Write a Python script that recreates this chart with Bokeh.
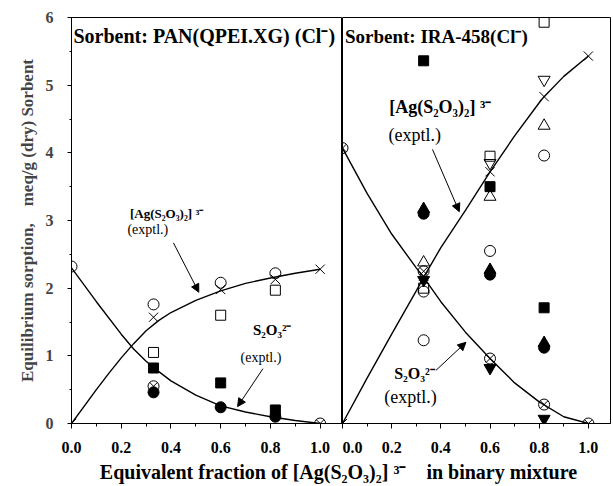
from bokeh.plotting import figure
from bokeh.layouts import column, row
from bokeh.models import Range1d, Label, Arrow, NormalHead, SingleIntervalTicker, NumeralTickFormatter
from bokeh.embed import file_html
from bokeh.resources import INLINE

FONT = "Liberation Serif"
NB = "\u00a0"

# ---------------- Left panel: PAN(QPEI.XG) (Cl-) ----------------
L_open_circle_x = [0.0, 0.33, 0.6, 0.82]
L_open_circle_y = [2.32, 1.76, 2.08, 2.22]
L_cross_x = [0.0, 0.33, 0.6, 0.82, 1.0]
L_cross_y = [0.0, 1.57, 1.98, 2.13, 2.28]
L_open_square_x = [0.33, 0.6, 0.82]
L_open_square_y = [1.05, 1.6, 1.97]
L_filled_square_x = [0.33, 0.6, 0.82]
L_filled_square_y = [0.82, 0.6, 0.2]
L_crossed_circle_x = [0.33, 1.0]
L_crossed_circle_y = [0.55, 0.0]
L_filled_circle_x = [0.33, 0.6, 0.82]
L_filled_circle_y = [0.46, 0.24, 0.1]

L_ag_curve_x = [0.0, 0.1, 0.15, 0.2, 0.25, 0.3, 0.35, 0.4, 0.5, 0.6, 0.7, 0.8, 0.9, 1.0]
L_ag_curve_y = [0.0, 0.5, 0.74, 0.97, 1.18, 1.37, 1.52, 1.64, 1.82, 1.96, 2.07, 2.15, 2.22, 2.28]
L_s2o3_curve_x = [0.0, 0.1, 0.2, 0.25, 0.3, 0.35, 0.4, 0.5, 0.6, 0.7, 0.8, 0.9, 1.0]
L_s2o3_curve_y = [2.3, 1.8, 1.32, 1.1, 0.92, 0.77, 0.63, 0.42, 0.26, 0.17, 0.1, 0.045, 0.0]

# ---------------- Right panel: IRA-458 (Cl-) ----------------
R_open_square_x = [0.33, 0.6, 0.82]
R_open_square_y = [2.0, 3.95, 5.93]
R_open_circle_x = [0.33, 0.33, 0.6, 0.82]
R_open_circle_y = [1.95, 1.23, 2.55, 3.96]
R_open_triangle_x = [0.33, 0.6, 0.82]
R_open_triangle_y = [2.38, 3.35, 4.4]
R_open_inv_triangle_x = [0.6, 0.82]
R_open_inv_triangle_y = [3.85, 5.08]
R_cross_x = [0.0, 0.33, 0.6, 0.82, 1.0]
R_cross_y = [0.0, 2.18, 3.72, 4.83, 5.43]
R_filled_square_x = [0.33, 0.6, 0.82]
R_filled_square_y = [5.36, 3.5, 1.71]
R_filled_circle_x = [0.33, 0.6, 0.82]
R_filled_circle_y = [3.1, 2.2, 1.12]
R_filled_triangle_x = [0.33, 0.6, 0.82]
R_filled_triangle_y = [3.17, 2.27, 1.19]
R_filled_inv_triangle_x = [0.33, 0.6, 0.82]
R_filled_inv_triangle_y = [2.12, 0.82, 0.07]
R_crossed_circle_x = [0.0, 0.33, 0.6, 0.82, 1.0]
R_crossed_circle_y = [4.07, 2.25, 0.96, 0.28, 0.0]

R_ag_curve_x = [0.0, 0.1, 0.2, 0.3, 0.33, 0.4, 0.5, 0.6, 0.7, 0.8, 0.82, 0.9, 1.0]
R_ag_curve_y = [0.0, 0.67, 1.32, 1.96, 2.16, 2.6, 3.15, 3.72, 4.25, 4.74, 4.83, 5.13, 5.43]
R_s2o3_curve_x = [0.0, 0.1, 0.2, 0.3, 0.33, 0.4, 0.5, 0.6, 0.7, 0.8, 0.9, 1.0]
R_s2o3_curve_y = [4.07, 3.4, 2.8, 2.3, 2.16, 1.8, 1.35, 0.96, 0.6, 0.32, 0.1, 0.0]

AG_LABEL = "[Ag(S₂O₃)₂] ³⁻"
S2O3_LABEL = "S₂O₃²⁻"
EXPTL = "(exptl.)"
X_TITLE = "Equivalent fraction of [Ag(S₂O₃)₂] ³⁻" + NB * 4 + "in binary mixture"
Y_TITLE = "Equilibrium sorption," + NB * 4 + "meq/g (dry) Sorbent"
X_MAX = 1.09


def style_axes(p):
    p.grid.visible = False
    p.outline_line_color = "black"
    p.outline_line_width = 1
    p.background_fill_color = "white"
    p.border_fill_color = "white"
    xa = p.xaxis[0]
    xa.ticker = SingleIntervalTicker(interval=0.2, num_minor_ticks=2)
    xa.formatter = NumeralTickFormatter(format="0.0")
    xa.major_tick_out = 5
    xa.major_tick_in = 0
    xa.minor_tick_out = 3
    xa.minor_tick_in = 0
    xa.major_label_standoff = 13
    xa.major_label_text_font = FONT
    xa.major_label_text_font_style = "bold"
    xa.major_label_text_font_size = "16px"
    xa.major_label_text_color = "black"
    xa.axis_line_color = "black"


def markers(p, x, y, marker, size, filled):
    p.scatter(x, y, marker=marker, size=size,
              fill_color="black" if filled else None,
              line_color="black", line_width=1)


def add_label(p, x, y, text, bold=True, size="15px"):
    p.add_layout(Label(x=x, y=y, text=text, text_font=FONT,
                       text_font_style="bold" if bold else "normal",
                       text_font_size=size, text_color="black",
                       text_baseline="middle", text_align="left"))


def add_arrow(p, x0, y0, x1, y1):
    p.add_layout(Arrow(end=NormalHead(size=8, fill_color="black", line_color="black"),
                       x_start=x0, y_start=y0, x_end=x1, y_end=y1,
                       line_color="black", line_width=1))


# ---------- left figure ----------
p1 = figure(width=342, height=459, x_range=Range1d(0, X_MAX), y_range=Range1d(0, 6),
            output_backend="svg", toolbar_location=None,
            min_border_left=71, min_border_right=0, min_border_top=17, min_border_bottom=36)
style_axes(p1)
ya = p1.yaxis[0]
ya.ticker = SingleIntervalTicker(interval=1, num_minor_ticks=2)
ya.major_tick_out = 4
ya.major_tick_in = 0
ya.minor_tick_out = 2
ya.minor_tick_in = 0
ya.major_label_standoff = 14
ya.major_label_text_font = FONT
ya.major_label_text_font_style = "bold"
ya.major_label_text_font_size = "16px"
ya.axis_label = Y_TITLE
ya.axis_label_text_font = FONT
ya.axis_label_text_font_style = "bold"
ya.axis_label_text_font_size = "17px"
ya.axis_label_standoff = 6

p1.line(L_ag_curve_x, L_ag_curve_y, line_color="black", line_width=1.4)
p1.line(L_s2o3_curve_x, L_s2o3_curve_y, line_color="black", line_width=1.4)
markers(p1, L_open_circle_x, L_open_circle_y, "circle", 11, False)
markers(p1, L_cross_x, L_cross_y, "x", 13, False)
markers(p1, L_open_square_x, L_open_square_y, "square", 10, False)
markers(p1, L_filled_square_x, L_filled_square_y, "square", 10, True)
markers(p1, L_crossed_circle_x, L_crossed_circle_y, "circle_x", 11, False)
markers(p1, L_filled_circle_x, L_filled_circle_y, "circle", 11, True)

add_label(p1, 0.008, 5.72, "Sorbent: PAN(QPEI.XG) (Cl⁻)", size="20px")
add_label(p1, 0.235, 3.1, AG_LABEL, size="13px")
add_label(p1, 0.225, 2.86, EXPTL, bold=False, size="14px")
add_label(p1, 0.73, 1.38, S2O3_LABEL)
add_label(p1, 0.68, 0.98, EXPTL, bold=False, size="14px")
add_arrow(p1, 0.41, 2.67, 0.512, 1.94)
add_arrow(p1, 0.77, 0.81, 0.668, 0.25)

# ---------- right figure ----------
p2 = figure(width=271, height=459, x_range=Range1d(0, X_MAX), y_range=p1.y_range,
            output_backend="svg", toolbar_location=None, y_axis_location=None,
            min_border_left=0, min_border_right=3, min_border_top=17, min_border_bottom=36)
style_axes(p2)

p2.line(R_ag_curve_x, R_ag_curve_y, line_color="black", line_width=1.4)
p2.line(R_s2o3_curve_x, R_s2o3_curve_y, line_color="black", line_width=1.4)
markers(p2, R_open_square_x, R_open_square_y, "square", 10, False)
markers(p2, R_open_circle_x, R_open_circle_y, "circle", 11, False)
markers(p2, R_open_triangle_x, R_open_triangle_y, "triangle", 12, False)
markers(p2, R_open_inv_triangle_x, R_open_inv_triangle_y, "inverted_triangle", 12, False)
markers(p2, R_cross_x, R_cross_y, "x", 13, False)
markers(p2, R_filled_square_x, R_filled_square_y, "square", 10, True)
markers(p2, R_filled_circle_x, R_filled_circle_y, "circle", 11, True)
markers(p2, R_filled_triangle_x, R_filled_triangle_y, "triangle", 12, True)
markers(p2, R_filled_inv_triangle_x, R_filled_inv_triangle_y, "inverted_triangle", 12, True)
markers(p2, R_crossed_circle_x, R_crossed_circle_y, "circle_x", 11, False)

add_label(p2, 0.01, 5.72, "Sorbent: IRA-458(Cl⁻)", size="19px")
add_label(p2, 0.19, 4.67, AG_LABEL, size="18px")
add_label(p2, 0.187, 4.27, EXPTL, bold=False, size="18px")
add_label(p2, 0.21, 0.74, S2O3_LABEL, size="16px")
add_label(p2, 0.17, 0.385, EXPTL, bold=False, size="18px")
add_arrow(p2, 0.366, 4.05, 0.475, 3.13)
add_arrow(p2, 0.38, 0.785, 0.502, 1.2)

# ---------- shared x title ----------
p3 = figure(width=613, height=27, x_range=Range1d(0, 613), y_range=Range1d(0, 27),
            output_backend="svg", toolbar_location=None,
            x_axis_type=None, y_axis_type=None, min_border=0)
p3.grid.visible = False
p3.outline_line_color = None
p3.add_layout(Label(x=338, y=15, text=X_TITLE, text_font=FONT, text_font_style="bold",
                    text_font_size="20px", text_align="center", text_baseline="middle",
                    text_color="black"))

layout = column(row(p1, p2, spacing=0), p3, spacing=0)

with open("out.html", "w") as f:
    f.write(file_html(layout, INLINE))
